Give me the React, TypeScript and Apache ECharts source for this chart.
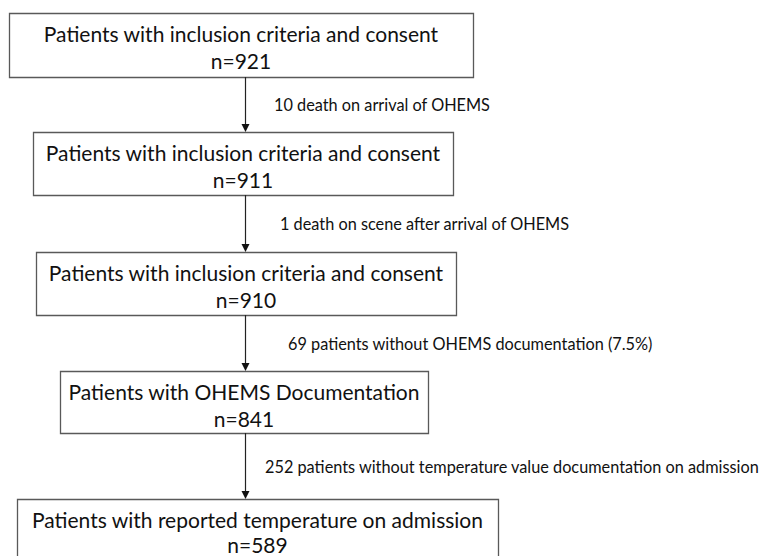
import React, { useEffect, useRef } from "react";
import * as echarts from "echarts";

// Flow steps (box texts)
const stepTitles = [
  "Patients with inclusion criteria and consent",
  "Patients with inclusion criteria and consent",
  "Patients with inclusion criteria and consent",
  "Patients with OHEMS Documentation",
  "Patients with reported temperature on admission",
];
const stepCounts = [921, 911, 910, 841, 589];
// Exclusion notes between steps
const exclusionNotes = [
  "10 death on arrival of OHEMS",
  "1 death on scene after arrival of OHEMS",
  "69 patients without OHEMS documentation (7.5%)",
  "252 patients without temperature value documentation on admission",
];

// layout (pixels)
const boxes = [
  { x0: 9, x1: 473, y0: 13, y1: 77 },
  { x0: 33, x1: 453, y0: 132, y1: 195 },
  { x0: 36, x1: 456, y0: 252, y1: 315 },
  { x0: 60, x1: 428, y0: 371, y1: 433 },
  { x0: 17, x1: 498, y0: 499, y1: 566 },
];
const noteX = [274, 280, 288, 265];
const arrowX = 245;

const FONT = "Lato, 'Open Sans', sans-serif";

export default function App() {
  const ref = useRef<HTMLDivElement>(null);
  useEffect(() => {
    if (!ref.current) return;
    const chart = echarts.init(ref.current, null, { renderer: "svg" });
    const elements: any[] = [];
    boxes.forEach((b, i) => {
      elements.push({
        type: "rect",
        shape: { x: b.x0 + 0.5, y: b.y0 + 0.5, width: b.x1 - b.x0, height: b.y1 - b.y0 },
        style: { fill: "#fff", stroke: "#595959", lineWidth: 1.3 },
      });
      const cx = (b.x0 + b.x1) / 2;
      const last = i === boxes.length - 1;
      elements.push({
        type: "text",
        style: {
          text: stepTitles[i],
          x: cx,
          y: b.y0 + 20,
          fill: "#111",
          font: `21px ${FONT}`,
          align: "center",
          verticalAlign: "middle",
          textAlign: "center",
          textVerticalAlign: "middle",
        },
      });
      elements.push({
        type: "text",
        style: {
          text: "n=" + stepCounts[i],
          x: cx,
          y: b.y0 + (last ? 45.5 : 47.5),
          fill: "#111",
          font: `21px ${FONT}`,
          align: "center",
          verticalAlign: "middle",
          textAlign: "center",
          textVerticalAlign: "middle",
        },
      });
    });
    exclusionNotes.forEach((note, i) => {
      const yTop = boxes[i].y1;
      const yBot = boxes[i + 1].y0;
      elements.push({
        type: "line",
        shape: { x1: arrowX + 0.5, y1: yTop, x2: arrowX + 0.5, y2: yBot - 6 },
        style: { stroke: "#222", lineWidth: 1.2 },
      });
      elements.push({
        type: "polygon",
        shape: {
          points: [
            [arrowX + 0.5 - 4, yBot - 8],
            [arrowX + 0.5 + 4, yBot - 8],
            [arrowX + 0.5, yBot],
          ],
        },
        style: { fill: "#111" },
      });
      elements.push({
        type: "text",
        style: {
          text: note,
          x: noteX[i],
          y: (yTop + yBot) / 2,
          fill: "#111",
          font: `16.3px ${FONT}`,
          align: "left",
          verticalAlign: "middle",
          textAlign: "left",
          textVerticalAlign: "middle",
        },
      });
    });
    chart.setOption({
      animation: false,
      backgroundColor: "#fff",
      graphic: { elements },
    });
    return () => chart.dispose();
  }, []);
  return (
    <div
      ref={ref}
      style={{ position: "fixed", left: 0, top: 0, width: 767, height: 556 }}
    />
  );
}
